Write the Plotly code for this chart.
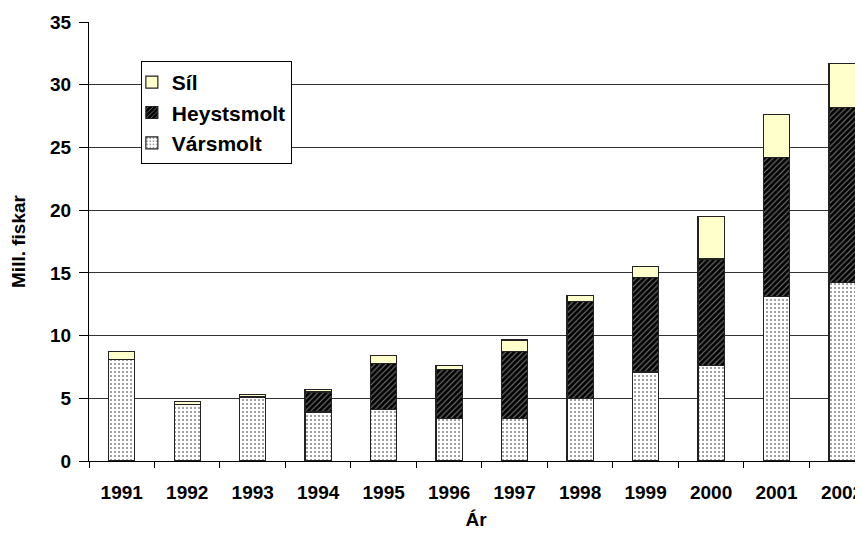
import plotly.graph_objects as go

years = ["1991", "1992", "1993", "1994", "1995", "1996", "1997", "1998", "1999", "2000", "2001", "2002"]
varsmolt = [8.1, 4.5, 5.1, 3.9, 4.1, 3.4, 3.4, 5.0, 7.1, 7.6, 13.1, 14.2]
heystsmolt = [0.0, 0.0, 0.0, 1.6, 3.7, 3.9, 5.3, 7.7, 7.5, 8.5, 11.1, 14.0]
sil = [0.6, 0.25, 0.2, 0.2, 0.6, 0.3, 0.95, 0.5, 0.9, 3.4, 3.4, 3.5]

FONT = "Liberation Sans"
line = dict(color="#222222", width=1.2)

fig = go.Figure()
fig.add_trace(go.Bar(
    x=years, y=varsmolt, name="Vársmolt",
    marker=dict(color="white", line=line,
                pattern=dict(shape=".", fgcolor="black", bgcolor="white", size=4, solidity=0.2)),
))
fig.add_trace(go.Bar(
    x=years, y=heystsmolt, name="Heystsmolt",
    marker=dict(color="black", line=line,
                pattern=dict(shape="/", fgcolor="white", bgcolor="black", size=4, solidity=0.25)),
))
fig.add_trace(go.Bar(
    x=years, y=sil, name="Síl",
    marker=dict(color="#FFFFCC", line=line),
))

fig.update_layout(
    width=855, height=536,
    barmode="stack", bargap=0.6,
    plot_bgcolor="white", paper_bgcolor="white",
    margin=dict(l=81, r=0, t=14, b=83),
    font=dict(family=FONT, size=19, color="black"),
    showlegend=True,
    legend=dict(
        x=0.067, y=0.911, xanchor="left", yanchor="top",
        traceorder="reversed",
        bordercolor="black", borderwidth=1, bgcolor="white",
        font=dict(family=FONT, size=21, color="black", weight="bold"),
        itemwidth=30, tracegroupgap=0, indentation=-10,
    ),
    xaxis=dict(
        type="category", range=[-0.5, 11.32],
        showline=True, linecolor="black", linewidth=1,
        ticks="outside", tickson="boundaries", ticklen=6, tickcolor="black",
        ticklabelstandoff=14,
        tickfont=dict(family=FONT, size=19, color="black", weight="bold"),
        title=dict(text="Ár", font=dict(family=FONT, size=19, color="black", weight="bold"), standoff=10),
        showgrid=False, automargin=False,
    ),
    yaxis=dict(
        range=[0, 35], dtick=5,
        showline=True, linecolor="black", linewidth=1,
        ticks="outside", ticklen=9, tickcolor="black",
        ticklabelstandoff=4,
        showgrid=True, gridcolor="#333333", gridwidth=1,
        zeroline=False,
        tickfont=dict(family=FONT, size=19, color="black", weight="bold"),
        title=dict(text="Mill. fiskar", font=dict(family=FONT, size=19, color="black", weight="bold"), standoff=28),
        automargin=False,
    ),
)

fig.write_html("out.html")
